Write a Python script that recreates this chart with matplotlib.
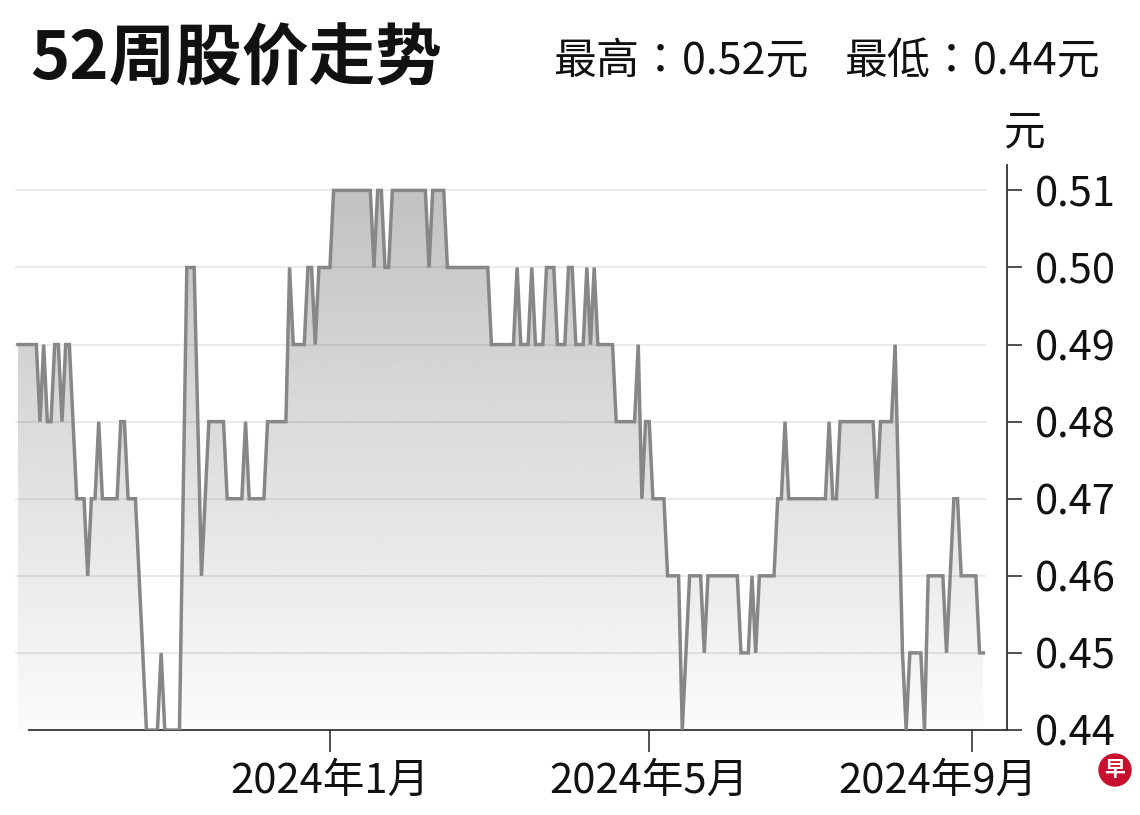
import numpy as np
import pandas as pd
import matplotlib
matplotlib.use("Agg")
import matplotlib.pyplot as plt
import matplotlib.transforms as mtransforms
from matplotlib.patches import Circle

plt.rcParams['font.family'] = ['Liberation Sans Narrow', 'Noto Sans CJK SC', 'DejaVu Sans']

# daily closing prices, first trading day 2023-09-04
start_date = "2023-09-04"
price = [
    0.49, 0.49, 0.49, 0.49, 0.49, 0.49, 0.48, 0.49, 0.48, 0.48, 0.49, 0.49, 0.48, 0.49, 0.49, 0.48, 0.47, 0.47, 0.47, 0.46,
    0.47, 0.47, 0.48, 0.47, 0.47, 0.47, 0.47, 0.47, 0.48, 0.48, 0.47, 0.47, 0.47, 0.46, 0.45, 0.44, 0.44, 0.44, 0.44, 0.45,
    0.44, 0.44, 0.44, 0.44, 0.44, 0.47, 0.50, 0.50, 0.50, 0.48, 0.46, 0.47, 0.48, 0.48, 0.48, 0.48, 0.48, 0.47, 0.47, 0.47,
    0.47, 0.47, 0.48, 0.47, 0.47, 0.47, 0.47, 0.47, 0.48, 0.48, 0.48, 0.48, 0.48, 0.48, 0.50, 0.49, 0.49, 0.49, 0.49, 0.50,
    0.50, 0.49, 0.50, 0.50, 0.50, 0.50, 0.51, 0.51, 0.51, 0.51, 0.51, 0.51, 0.51, 0.51, 0.51, 0.51, 0.51, 0.50, 0.51, 0.51,
    0.50, 0.50, 0.51, 0.51, 0.51, 0.51, 0.51, 0.51, 0.51, 0.51, 0.51, 0.51, 0.50, 0.51, 0.51, 0.51, 0.51, 0.50, 0.50, 0.50,
    0.50, 0.50, 0.50, 0.50, 0.50, 0.50, 0.50, 0.50, 0.50, 0.49, 0.49, 0.49, 0.49, 0.49, 0.49, 0.49, 0.50, 0.49, 0.49, 0.49,
    0.50, 0.49, 0.49, 0.49, 0.50, 0.50, 0.50, 0.49, 0.49, 0.49, 0.50, 0.50, 0.49, 0.49, 0.49, 0.50, 0.49, 0.50, 0.49, 0.49,
    0.49, 0.49, 0.49, 0.48, 0.48, 0.48, 0.48, 0.48, 0.48, 0.49, 0.47, 0.48, 0.48, 0.47, 0.47, 0.47, 0.47, 0.46, 0.46, 0.46,
    0.46, 0.44, 0.45, 0.46, 0.46, 0.46, 0.46, 0.45, 0.46, 0.46, 0.46, 0.46, 0.46, 0.46, 0.46, 0.46, 0.46, 0.45, 0.45, 0.45,
    0.46, 0.45, 0.46, 0.46, 0.46, 0.46, 0.46, 0.47, 0.47, 0.48, 0.47, 0.47, 0.47, 0.47, 0.47, 0.47, 0.47, 0.47, 0.47, 0.47,
    0.47, 0.48, 0.47, 0.47, 0.48, 0.48, 0.48, 0.48, 0.48, 0.48, 0.48, 0.48, 0.48, 0.48, 0.47, 0.48, 0.48, 0.48, 0.48, 0.49,
    0.47, 0.45, 0.44, 0.45, 0.45, 0.45, 0.45, 0.44, 0.46, 0.46, 0.46, 0.46, 0.46, 0.45, 0.46, 0.47, 0.47, 0.46, 0.46, 0.46,
    0.46, 0.46, 0.45, 0.45,
]
y_ticks = [0.44, 0.45, 0.46, 0.47, 0.48, 0.49, 0.50, 0.51]
month_ticks = ["2024-01-01", "2024-05-01", "2024-09-02"]
month_labels = ["2024年1月", "2024年5月", "2024年9月"]
title = "52周股价走势"
high_text = "最高：0.52元"
low_text = "最低：0.44元"
unit = "元"

dates = pd.bdate_range(start_date, periods=len(price))
x = np.arange(len(price))
tick_pos = dates.searchsorted(pd.to_datetime(month_ticks))

fig = plt.figure(figsize=(11.4, 8.15), dpi=100)
ax = fig.add_axes([0.0132, 0.1043, 0.8702, 0.6933])
ymin, ymax = 0.44, 0.5133

# gradient under the line
fill = ax.fill_between(x, price, ymin, color='none', lw=0)
grad = np.linspace(0.985, 0.75, 256).reshape(-1, 1)
img = ax.imshow(grad, cmap='gray', vmin=0, vmax=1, aspect='auto', origin='lower',
                extent=[x[0], x[-1], ymin, ymax], zorder=1, interpolation='bilinear')
img.set_clip_path(fill.get_paths()[0], transform=ax.transData)

for v in y_ticks[1:]:
    ax.axhline(v, xmin=0, xmax=0.978, color='black', alpha=0.08, lw=1.5, zorder=2)

ax.plot(x, price, color='#878787', lw=2.5, zorder=3, solid_joinstyle='miter')

ax.set_xlim(-0.8, 269.5)
ax.set_ylim(ymin, ymax)

for s in ['top', 'left']:
    ax.spines[s].set_visible(False)
ax.spines['right'].set_color('#333333')
ax.spines['right'].set_linewidth(1.3)
ax.spines['bottom'].set_color('#333333')
ax.spines['bottom'].set_linewidth(1.3)
ax.spines['bottom'].set_bounds(3, 269.5)

ax.yaxis.tick_right()
ax.set_yticks(y_ticks)
ax.set_yticklabels([f"{v:.2f}" for v in y_ticks])
ax.tick_params(axis='y', direction='out', length=11, width=1.2, color='#333333',
               labelsize=30, pad=9, labelcolor='#111111')

ax.set_xticks(tick_pos)
ax.set_xticklabels(month_labels)
ax.tick_params(axis='x', direction='out', length=16, width=1.2, color='#333333',
               labelsize=30, pad=6, labelcolor='#111111')
last = ax.get_xticklabels()[-1]
last.set_transform(last.get_transform() + mtransforms.ScaledTranslation(-0.34, 0, fig.dpi_scale_trans))

fig.text(30/1140, 1 - 60/815, title, fontsize=48, fontweight='bold', va='center', ha='left',
         family=['Noto Sans CJK SC', 'DejaVu Sans'], color='#111111')
fig.text(553/1140, 1 - 62/815, high_text, fontsize=31, va='center', ha='left', color='#111111',
         family=['Liberation Sans Narrow', 'Noto Sans CJK TC', 'DejaVu Sans'])
fig.text(1100/1140, 1 - 62/815, low_text, fontsize=31, va='center', ha='right', color='#111111',
         family=['Liberation Sans Narrow', 'Noto Sans CJK TC', 'DejaVu Sans'])
fig.text(1025/1140, 1 - 133/815, unit, fontsize=30, va='center', ha='center', color='#111111')

# logo mark
fig.add_artist(Circle((11.15, 0.45), 0.16, transform=fig.dpi_scale_trans, color='#c8102e'))
fig.text(1115/1140, 0.45/8.15, "早", fontsize=15, fontweight='bold', color='white',
         ha='center', va='center', family=['Noto Sans CJK SC'])

fig.savefig("out.png", dpi=100)
